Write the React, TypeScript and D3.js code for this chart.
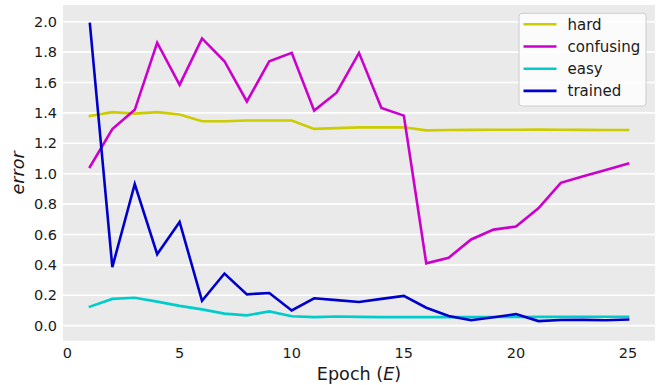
import React from "react";
import * as d3 from "d3";

const epochs = [1,2,3,4,5,6,7,8,9,10,11,12,13,14,15,16,17,18,19,20,21,22,23,24,25];
const hard = [1.38,1.405,1.395,1.405,1.39,1.345,1.345,1.35,1.35,1.35,1.295,1.3,1.305,1.305,1.305,1.285,1.287,1.288,1.289,1.289,1.29,1.289,1.288,1.287,1.287];
const confusing = [1.045,1.294,1.42,1.862,1.585,1.89,1.74,1.475,1.74,1.795,1.415,1.533,1.795,1.432,1.382,0.41,0.447,0.567,0.632,0.652,0.772,0.94,0.983,1.025,1.067];
const easy = [0.125,0.176,0.184,0.158,0.13,0.107,0.079,0.068,0.094,0.062,0.056,0.06,0.058,0.056,0.056,0.056,0.056,0.056,0.057,0.057,0.058,0.058,0.059,0.059,0.059];
const trained = [1.985,0.385,0.932,0.47,0.682,0.164,0.343,0.206,0.215,0.1,0.18,0.168,0.156,0.176,0.196,0.118,0.064,0.036,0.055,0.076,0.03,0.037,0.038,0.036,0.04];

const seriesNames = ["hard", "confusing", "easy", "trained"];
const seriesColors = ["#cccc00", "#cc00cc", "#00cccc", "#0000cc"];
const seriesData = [hard, confusing, easy, trained];
const xTicks = [0, 5, 10, 15, 20, 25];
const yTicks = [0, 0.2, 0.4, 0.6, 0.8, 1.0, 1.2, 1.4, 1.6, 1.8, 2.0];

const W = 661, H = 385;
const M = { left: 63, right: 655, top: 5, bottom: 340.7 };
const FONT = "DejaVu Sans, sans-serif";

export default function App() {
  const x = d3.scaleLinear().domain([-0.2, 26.2]).range([M.left, M.right]);
  const y = d3.scaleLinear().domain([-0.099, 2.11]).range([M.bottom, M.top]);
  const line = d3.line<[number, number]>().x(d => x(d[0])).y(d => y(d[1]));

  return (
    <svg width={W} height={H} style={{ position: "absolute", left: 0, top: 0 }}>
      <rect x={M.left} y={M.top} width={M.right - M.left} height={M.bottom - M.top} fill="#eaeaea" />
      {yTicks.map(t => (
        <line key={"g" + t} x1={M.left} x2={M.right} y1={y(t)} y2={y(t)} stroke="#ffffff" strokeWidth={1.6} />
      ))}
      {seriesData.map((s, i) => (
        <path key={seriesNames[i]} d={line(epochs.map((e, j) => [e, s[j]] as [number, number])) || ""}
          fill="none" stroke={seriesColors[i]} strokeWidth={2.6} strokeLinejoin="miter" strokeLinecap="square" />
      ))}
      {yTicks.map(t => (
        <text key={"yt" + t} x={57} y={y(t)} dy="0.35em" textAnchor="end" fontFamily={FONT} fontSize={14.5} fill="#1a1a1a">
          {t.toFixed(1)}
        </text>
      ))}
      {xTicks.map(t => (
        <text key={"xt" + t} x={x(t)} y={353} dy="0.35em" textAnchor="middle" fontFamily={FONT} fontSize={14.5} fill="#1a1a1a">
          {t}
        </text>
      ))}
      <text x={(M.left + M.right) / 2} y={374} dy="0.35em" textAnchor="middle" fontFamily={FONT} fontSize={17.6} fill="#1a1a1a">
        Epoch (<tspan fontStyle="italic">E</tspan>)
      </text>
      <text transform={`translate(18,${(M.top + M.bottom) / 2}) rotate(-90)`} dy="0.35em" textAnchor="middle"
        fontFamily={FONT} fontSize={17.6} fontStyle="italic" fill="#1a1a1a">error</text>
      <g>
        <rect x={519} y={13.3} width={127} height={92.7} rx={3} fill="#ffffff" fillOpacity={0.8} stroke="#cccccc" strokeWidth={1} />
        {seriesNames.map((n, i) => {
          const yy = 24.3 + i * 22.2;
          return (
            <g key={"lg" + n}>
              <line x1={523.5} x2={556.5} y1={yy} y2={yy} stroke={seriesColors[i]} strokeWidth={2.6} />
              <text x={567.5} y={yy} dy="0.35em" fontFamily={FONT} fontSize={15} fill="#1a1a1a">{n}</text>
            </g>
          );
        })}
      </g>
    </svg>
  );
}
